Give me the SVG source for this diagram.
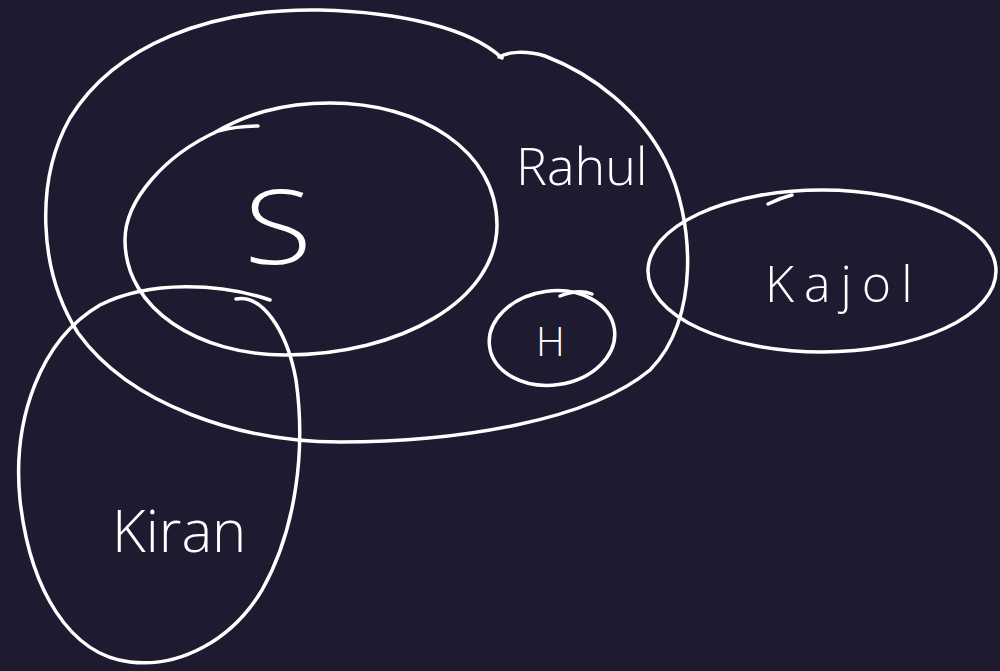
<svg xmlns="http://www.w3.org/2000/svg" width="1000" height="671" viewBox="0 0 1000 671">
<style>
.ln{fill:none;stroke:#ffffff;stroke-width:3.5;stroke-linecap:round;stroke-linejoin:round}
.lb{fill:#ffffff;font-family:"Open Sans","Liberation Sans",sans-serif;font-weight:300}
</style>
<rect width="1000" height="671" fill="#1e1a30"/>
<g id="rahul">
<path class="ln" d="M 502,58 C 470,28 400,12 320,10 C 210,8 115,45 70,118 C 35,180 38,270 78,333 C 130,405 240,442 340,442 C 460,442 590,420 650,370 C 700,320 695,220 665,160 C 640,112 595,75 545,56 C 525,50 507,52 499,57"/>
<text class="lb" x="516" y="185" font-size="52">Rahul</text>
</g>
<g id="s">
<path class="ln" d="M 258,126 C 245,126 230,128 218,131 C 165,155 125,200 125,240 C 125,310 200,355 285,355 C 400,355 497,300 497,225 C 497,150 420,103 330,103 C 280,103 245,115 214,133"/>
<text class="lb" x="244" y="264" font-size="104" textLength="68" lengthAdjust="spacingAndGlyphs">S</text>
</g>
<g id="h">
<ellipse class="ln" cx="552" cy="338" rx="63" ry="47" transform="rotate(-8 552 338)"/>
<path class="ln" d="M 560,296 C 570,292 582,290 592,294"/>
<text class="lb" x="536" y="356" font-size="40">H</text>
</g>
<g id="kajol">
<ellipse class="ln" cx="822" cy="271" rx="174" ry="81"/>
<path class="ln" d="M 768,204 C 776,200 784,197 792,195"/>
<text class="lb" x="765" y="302" font-size="50" letter-spacing="10">Kajol</text>
</g>
<g id="kiran">
<path class="ln" d="M 236,299 C 262,294 287,330 296,380 C 306,450 296,530 262,590 C 232,640 180,668 130,662 C 70,655 30,590 20,500 C 12,420 40,340 100,305 C 150,280 220,283 270,300"/>
<text class="lb" x="112" y="552" font-size="58">Kiran</text>
</g>
<g id="connectors"/>
</svg>
